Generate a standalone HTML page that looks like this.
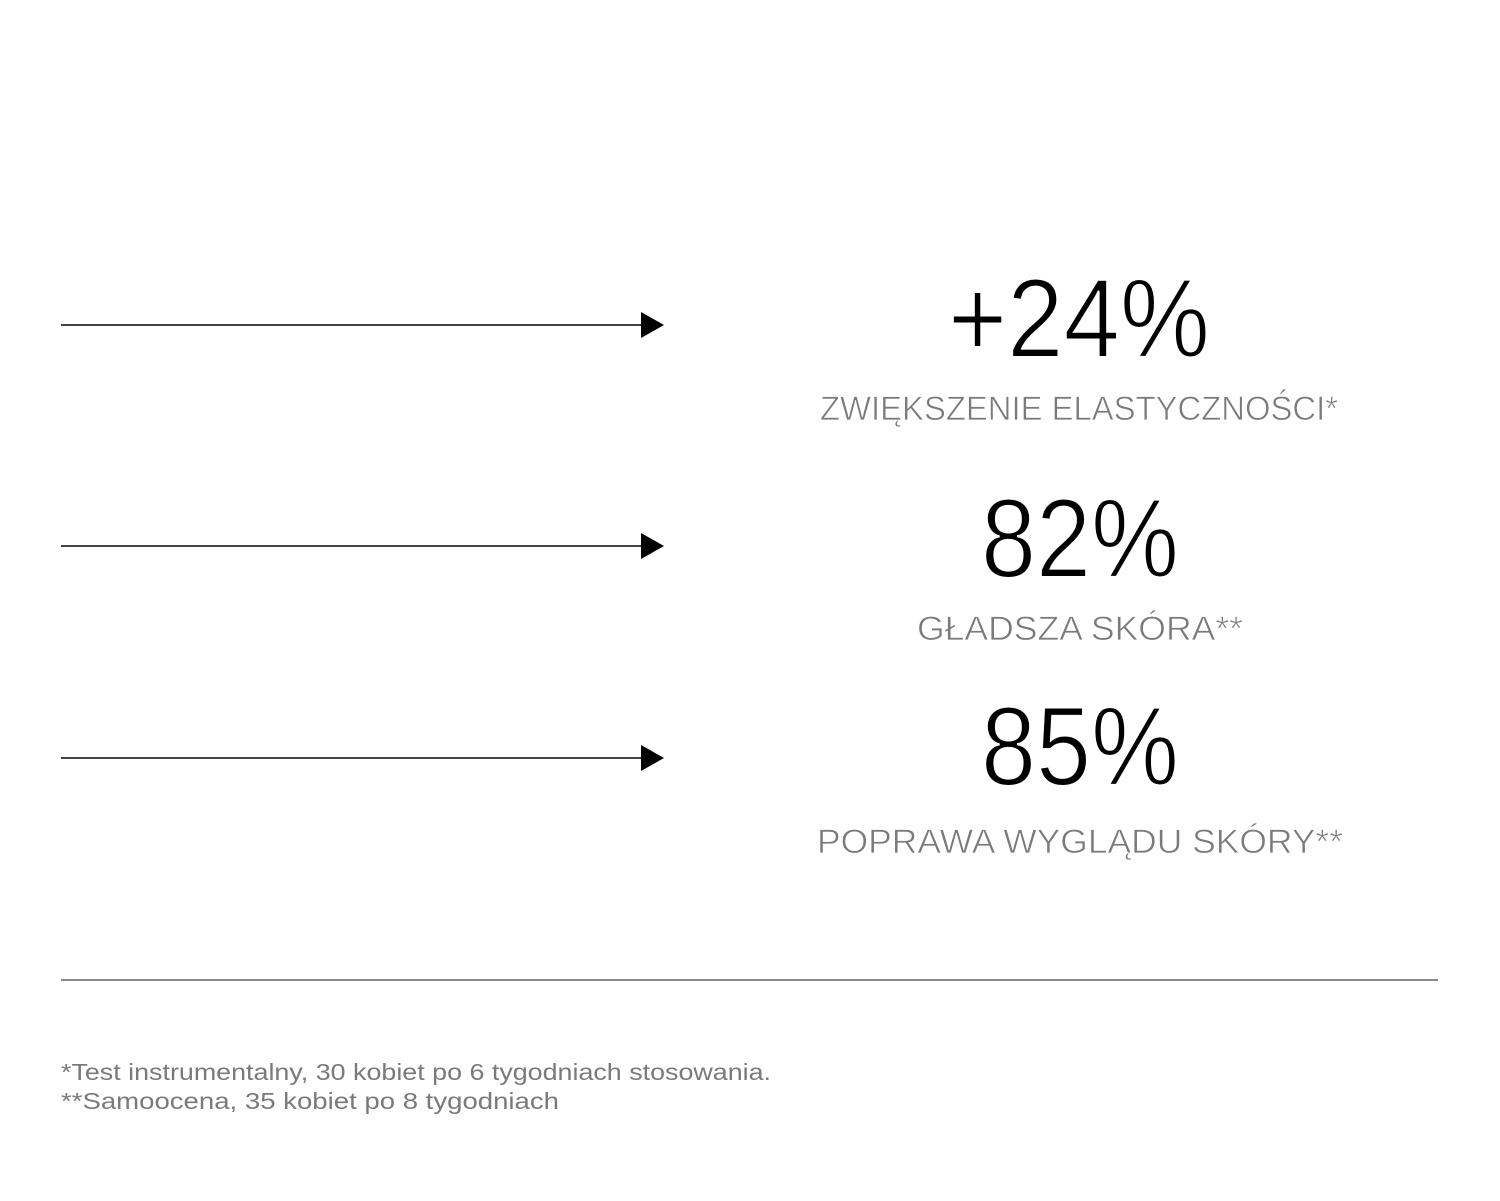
<!DOCTYPE html>
<html><head><meta charset="utf-8"><style>html,body{margin:0;padding:0;background:#fff}svg{display:block}</style></head>
<body>
<svg width="1500" height="1201" viewBox="0 0 1500 1201" xmlns="http://www.w3.org/2000/svg" font-family="'Liberation Sans', sans-serif">
<g stroke="#444" stroke-width="2">
<line x1="61" y1="325" x2="645" y2="325"/>
<line x1="61" y1="546" x2="645" y2="546"/>
<line x1="61" y1="758" x2="645" y2="758"/>
</g>
<g fill="#000">
<polygon points="641,312 664,325 641,338"/>
<polygon points="641,533 664,546 641,559"/>
<polygon points="641,745 664,758 641,771"/>
</g>
<g fill="#000" font-size="112" text-anchor="middle" stroke="#fff" stroke-width="2">
<text x="1079" y="357" textLength="262" lengthAdjust="spacingAndGlyphs">+24%</text>
<text x="1080" y="577" textLength="198" lengthAdjust="spacingAndGlyphs">82%</text>
<text x="1080" y="785" textLength="198" lengthAdjust="spacingAndGlyphs">85%</text>
</g>
<g fill="#7a7a7a" font-size="34" text-anchor="middle" stroke="#fff" stroke-width="0.7">
<text x="1079" y="420" textLength="518" lengthAdjust="spacingAndGlyphs">ZWIĘKSZENIE ELASTYCZNOŚCI*</text>
<text x="1080" y="640" textLength="326" lengthAdjust="spacingAndGlyphs">GŁADSZA SKÓRA**</text>
<text x="1080" y="853" textLength="526" lengthAdjust="spacingAndGlyphs">POPRAWA WYGLĄDU SKÓRY**</text>
</g>
<line x1="61" y1="980" x2="1438" y2="980" stroke="#666" stroke-width="1.5"/>
<g fill="#7a7a7a" font-size="23">
<text x="61" y="1080" textLength="710" lengthAdjust="spacingAndGlyphs">*Test instrumentalny, 30 kobiet po 6 tygodniach stosowania.</text>
<text x="61" y="1109" textLength="498" lengthAdjust="spacingAndGlyphs">**Samoocena, 35 kobiet po 8 tygodniach</text>
</g>
</svg>
</body></html>
